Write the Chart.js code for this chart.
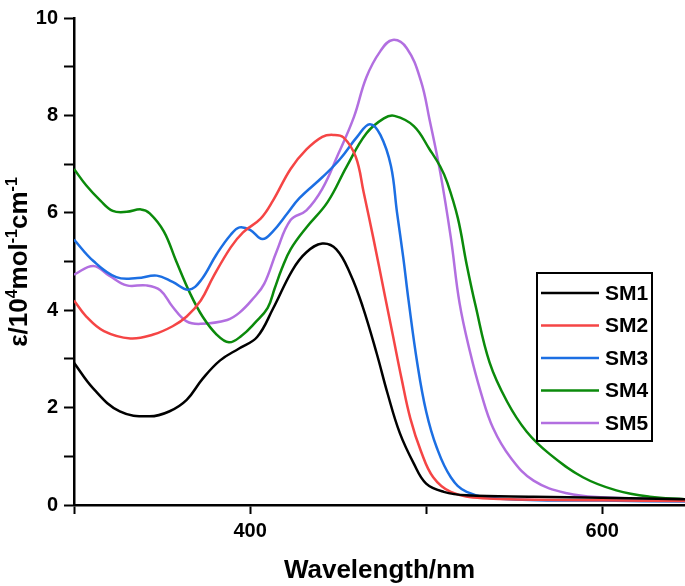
<!DOCTYPE html>
<html lang="en">
<head>
    <meta charset=utf-8>
    <title>SM1-SM5 absorption spectra</title>
    <script src="https://cdn.jsdelivr.net/npm/chart.js@4.4.1/dist/chart.umd.min.js"></script>
    <style>
        body { margin: 0; background: #fff; }
        #wrap { width: 685px; height: 586px; }
    </style>
</head>
<body>
<div id="wrap"><canvas id="myChart" width="685" height="586"></canvas></div>
<script>
    // values (wavelength in nm, epsilon in 10^4 M^-1 cm^-1)
    var seriesNames = ['SM1', 'SM2', 'SM3', 'SM4', 'SM5'];
    var seriesColors = ['#000000', '#f54545', '#1c6fe3', '#0b8a0b', '#b26fe0'];

    var sm1Wl  = [300, 311, 326, 343, 354, 364, 373, 383, 394, 404, 413, 424, 432, 441, 449, 457, 464, 472, 478, 485, 493, 500, 510, 523, 561, 600, 647];
    var sm1Eps = [2.92, 2.39, 1.92, 1.82, 1.92, 2.16, 2.59, 2.97, 3.22, 3.45, 4.03, 4.82, 5.19, 5.37, 5.25, 4.74, 4.07, 3.1, 2.3, 1.48, 0.85, 0.44, 0.27, 0.20, 0.17, 0.15, 0.12];

    var sm2Wl  = [300, 307, 317, 332, 345, 356, 364, 372, 379, 389, 396, 406, 413, 423, 432, 441, 447, 453, 460, 464.5, 470, 476.7, 481, 486, 491, 497, 504, 514, 532, 600, 647];
    var sm2Eps = [4.2, 3.87, 3.57, 3.42, 3.5, 3.67, 3.87, 4.2, 4.68, 5.29, 5.6, 5.88, 6.25, 6.9, 7.3, 7.56, 7.6, 7.55, 7.15, 6.42, 5.48, 4.27, 3.5, 2.6, 1.78, 1.11, 0.57, 0.27, 0.14, 0.10, 0.08];

    var sm3Wl  = [300, 311, 324, 336, 347, 356, 365, 372, 381, 389, 394, 400, 407, 413, 421, 428, 441, 451, 461, 468, 474, 480, 483.4, 487, 490, 495, 500, 506, 514, 523, 542, 600, 647];
    var sm3Eps = [5.45, 5.01, 4.68, 4.66, 4.71, 4.58, 4.42, 4.61, 5.15, 5.55, 5.7, 5.65, 5.46, 5.62, 5.98, 6.3, 6.73, 7.1, 7.57, 7.82, 7.6, 6.96, 6.02, 5.08, 4.2, 2.9, 1.92, 1.18, 0.57, 0.27, 0.13, 0.09, 0.07];

    var sm4Wl  = [300, 307, 315, 322, 330, 338, 343, 351, 358, 366, 373, 381, 388, 395, 403, 410, 414, 418, 423, 432, 444, 455, 466, 476, 482, 493, 502, 508, 512, 518, 523, 528, 536, 546, 557, 570, 589, 608, 627, 647];
    var sm4Eps = [6.9, 6.56, 6.25, 6.04, 6.02, 6.07, 5.99, 5.62, 5.01, 4.34, 3.87, 3.5, 3.34, 3.47, 3.75, 4.05, 4.45, 4.85, 5.25, 5.7, 6.22, 6.96, 7.63, 7.94, 7.99, 7.78, 7.3, 6.95, 6.62, 5.89, 4.94, 4.1, 2.93, 2.12, 1.51, 1.05, 0.57, 0.30, 0.17, 0.12];

    var sm5Wl  = [300, 311, 320, 330, 341, 349, 356, 364, 372, 387, 394, 402, 408, 415, 423, 432, 441, 450, 459, 466, 474, 481, 489, 497, 502, 508, 514, 519, 525, 531, 538, 548, 561, 580, 599, 647];
    var sm5Eps = [4.73, 4.91, 4.71, 4.51, 4.51, 4.41, 4.07, 3.77, 3.72, 3.8, 3.95, 4.25, 4.54, 5.2, 5.85, 6.05, 6.49, 7.2, 7.97, 8.78, 9.32, 9.55, 9.38, 8.71, 7.9, 6.83, 5.49, 4.14, 3.13, 2.32, 1.58, 0.97, 0.5, 0.24, 0.16, 0.12];

    var xLabelled = [400, 600];
    var yLabelled = [0, 2, 4, 6, 8, 10];

    var FONT = "'Liberation Sans', Arial, sans-serif";
    Chart.defaults.font.family = FONT;
    Chart.defaults.color = '#000';

    function toPoints(xs, ys) {
        return xs.map(function (x, i) { return {x: x, y: ys[i]}; });
    }

    var allWl = [sm1Wl, sm2Wl, sm3Wl, sm4Wl, sm5Wl];
    var allEps = [sm1Eps, sm2Eps, sm3Eps, sm4Eps, sm5Eps];
    var datasets = seriesNames.map(function (name, i) {
        return {
            label: name,
            data: toPoints(allWl[i], allEps[i]),
            borderColor: seriesColors[i],
            borderWidth: 2.5,
            pointRadius: 0,
            fill: false,
            tension: 0.4
        };
    });

    // y title with real superscripts
    var yTitle = {
        id: 'yTitle',
        afterDraw: function (chart) {
            var ctx = chart.ctx;
            var big = 26, small = 16;
            var parts = [['\u03b5/10', big, 0], ['4', small, -10], ['mol', big, 0], ['-1', small, -10], ['cm', big, 0], ['-1', small, -10]];
            var total = 0;
            parts.forEach(function (p) {
                ctx.font = 'bold ' + p[1] + 'px ' + FONT;
                total += ctx.measureText(p[0]).width;
            });
            ctx.save();
            ctx.translate(27, 262);
            ctx.rotate(-Math.PI / 2);
            ctx.fillStyle = '#000';
            ctx.textBaseline = 'alphabetic';
            var x = -total / 2;
            parts.forEach(function (p) {
                ctx.font = 'bold ' + p[1] + 'px ' + FONT;
                ctx.fillText(p[0], x, p[2]);
                x += ctx.measureText(p[0]).width;
            });
            ctx.restore();
        }
    };

    // boxed legend inside the plot
    var boxLegend = {
        id: 'boxLegend',
        afterDraw: function (chart) {
            var ctx = chart.ctx;
            var left = 537, top = 273, w = 115, h = 168, row = 32.5;
            ctx.save();
            ctx.fillStyle = '#fff';
            ctx.fillRect(left, top, w, h);
            ctx.strokeStyle = '#000';
            ctx.lineWidth = 2;
            ctx.strokeRect(left, top, w, h);
            ctx.font = 'bold 21px ' + FONT;
            ctx.textBaseline = 'middle';
            chart.data.datasets.forEach(function (ds, i) {
                var y = top + 20 + i * row;
                ctx.strokeStyle = ds.borderColor;
                ctx.lineWidth = 2.5;
                ctx.beginPath();
                ctx.moveTo(left + 4, y);
                ctx.lineTo(left + 62, y);
                ctx.stroke();
                ctx.fillStyle = '#000';
                ctx.fillText(ds.label, left + 68, y + 1);
            });
            ctx.restore();
        }
    };

    var ctx = document.getElementById('myChart').getContext('2d');
    var chart = new Chart(ctx, {
        type: 'line',
        data: {datasets: datasets},
        plugins: [yTitle, boxLegend],
        options: {
            responsive: false,
            animation: false,
            devicePixelRatio: 1,
            layout: {padding: {top: 10, right: 0, left: 0, bottom: 0}},
            plugins: {legend: {display: false}, tooltip: {enabled: false}},
            scales: {
                x: {
                    type: 'linear',
                    min: 300,
                    max: 647,
                    afterFit: function (s) { s.height = 81; },
                    afterBuildTicks: function (s) {
                        s.ticks = s.ticks.filter(function (t) { return t.value % 100 === 0; });
                    },
                    ticks: {
                        stepSize: 100,
                        padding: 5,
                        font: {size: 20, weight: 'bold'},
                        callback: function (v) { return xLabelled.indexOf(v) >= 0 ? String(v) : ''; }
                    },
                    grid: {drawOnChartArea: false, tickLength: 9, tickWidth: 2, tickColor: '#000'},
                    border: {color: '#000', width: 2.5},
                    title: {
                        display: true,
                        text: 'Wavelength/nm',
                        font: {size: 26, weight: 'bold'},
                        padding: {top: 0, bottom: 0}
                    }
                },
                y: {
                    type: 'linear',
                    min: 0,
                    max: 10,
                    afterFit: function (s) { s.width = 74; },
                    ticks: {
                        stepSize: 1,
                        padding: 6,
                        font: {size: 20, weight: 'bold'},
                        callback: function (v) { return yLabelled.indexOf(v) >= 0 ? String(v) : ''; }
                    },
                    grid: {drawOnChartArea: false, tickLength: 10, tickWidth: 2, tickColor: '#000'},
                    border: {color: '#000', width: 2.5}
                }
            }
        }
    });
</script>
</body>
</html>
